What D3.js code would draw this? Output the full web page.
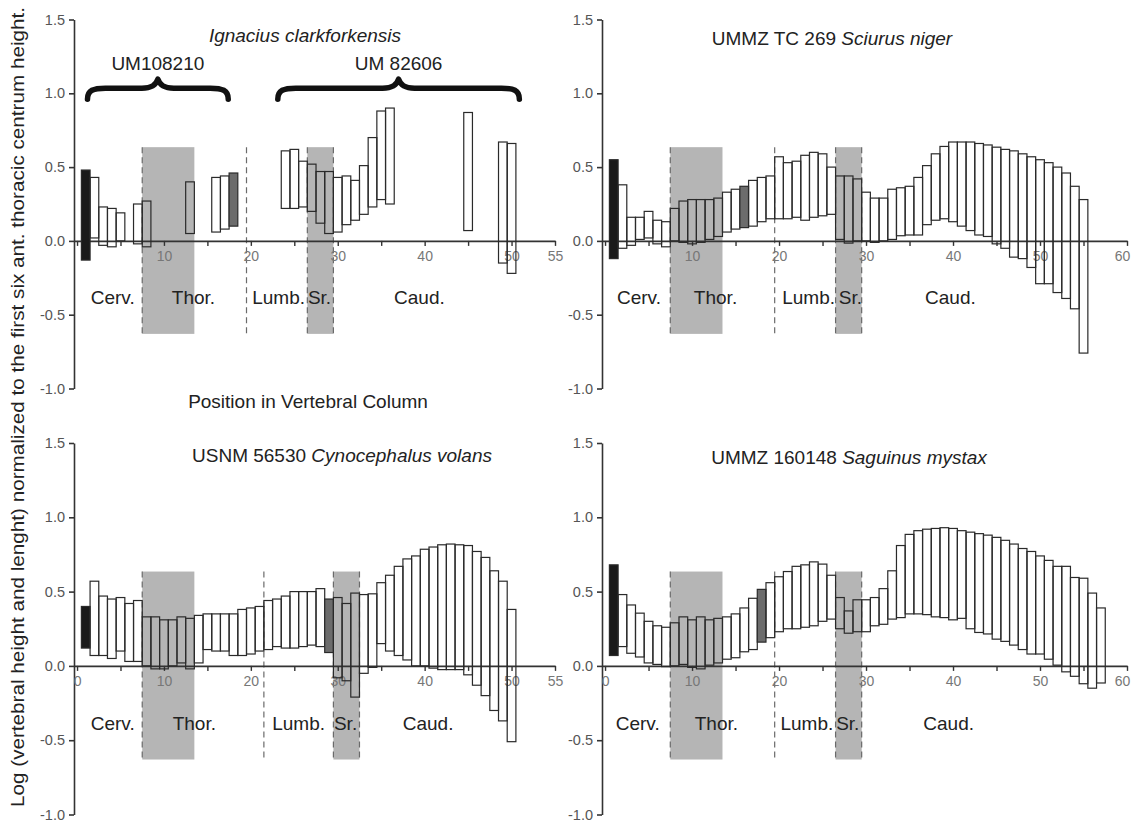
<!DOCTYPE html>
<html><head><meta charset="utf-8">
<script src="https://cdn.jsdelivr.net/npm/d3@7"></script>
<style>
html,body{margin:0;padding:0;background:#fff;}
svg{display:block;font-family:"Liberation Sans",Arial,Helvetica,sans-serif;}
</style></head><body>
<svg id="chart" width="1133" height="822"></svg>
<script>
// ---------- shared ----------
const regionNames = ["Cerv.", "Thor.", "Lumb.", "Sr.", "Caud."];
const yTicks = [-1.0, -0.5, 0.0, 0.5, 1.0, 1.5];
const shadeRange = [-0.63, 0.635];
const yAxisTitle = "Log (vertebral height and lenght) normalized to the first six ant. thoracic centrum height.";
const xAxisTitle = "Position in Vertebral Column";

// ---------- Ignacius clarkforkensis ----------
const ignaciusTitle = [["Ignacius clarkforkensis", true]];
const ignaciusPos  = [1, 2, 3, 4, 5, 7, 8, 13, 16, 17, 18, 24, 25, 26, 27, 28, 29, 30, 31, 32, 33, 34, 35, 36, 45, 49, 50];
const ignaciusLow  = [-0.13, 0.02, -0.03, -0.04, 0.00, -0.02, -0.04, 0.05, 0.06, 0.08, 0.10, 0.22, 0.22, 0.23, 0.20, 0.12, 0.05, 0.06, 0.11, 0.14, 0.18, 0.23, 0.28, 0.25, 0.07, -0.15, -0.22];
const ignaciusHigh = [0.48, 0.43, 0.23, 0.22, 0.19, 0.25, 0.27, 0.40, 0.43, 0.44, 0.46, 0.61, 0.62, 0.54, 0.52, 0.47, 0.47, 0.43, 0.44, 0.41, 0.51, 0.70, 0.88, 0.90, 0.87, 0.67, 0.66];
const ignaciusBlack = 1, ignaciusDark = 18;
const ignaciusThor = [7.5, 13.5], ignaciusLumb = 19.5, ignaciusSr = [26.5, 29.5];
const ignaciusLabelAt = [4.1, 13.4, 23.2, 27.9, 39.4];
const ignaciusXLabels = [10, 20, 30, 40, 50, 55];
const braceLabels = ["UM108210", "UM 82606"];
const braceFrom = [1.2, 23.1];
const braceTo = [17.4, 50.9];

// ---------- Sciurus niger ----------
const sciurusTitle = [["UMMZ TC 269 ", false], ["Sciurus niger", true]];
const sciurusPos  = [1,2,3,4,5,6,7,8,9,10,11,12,13,14,15,16,17,18,19,20,21,22,23,24,25,26,27,28,29,30,31,32,33,34,35,36,37,38,39,40,41,42,43,44,45,46,47,48,49,50,51,52,53,54,55];
const sciurusLow  = [-0.12,-0.05,-0.03,0.01,0.02,-0.02,-0.04,0.00,-0.01,-0.02, -0.01,0.01,0.03,0.06,0.08,0.09,0.10,0.13,0.15,0.15, 0.15,0.16,0.14,0.16,0.17,0.18,0.01,-0.015,0.00,0.00, -0.01,0.00,0.01,0.035,0.04,0.04,0.11,0.14,0.15,0.13, 0.10,0.07,0.04,0.03,-0.02,-0.05,-0.11,-0.12,-0.18,-0.29, -0.29,-0.35,-0.39,-0.46,-0.76];
const sciurusHigh = [0.55,0.38,0.16,0.16,0.20,0.14,0.13,0.22,0.27,0.28, 0.28,0.28,0.29,0.33,0.35,0.37,0.41,0.43,0.44,0.57, 0.53,0.54,0.58,0.60,0.59,0.50,0.44,0.44,0.42,0.33, 0.29,0.29,0.35,0.36,0.37,0.43,0.51,0.59,0.64,0.67, 0.67,0.67,0.66,0.65,0.635,0.62,0.61,0.59,0.57,0.55, 0.53,0.50,0.46,0.37,0.28];
const sciurusBlack = 1, sciurusDark = 16;
const sciurusThor = [7.5, 13.5], sciurusLumb = 19.5, sciurusSr = [26.5, 29.5];
const sciurusLabelAt = [3.9, 12.7, 23.4, 28.2, 39.7];
const sciurusXLabels = [10, 20, 30, 40, 50, 60];

// ---------- Cynocephalus volans ----------
const cynoTitle = [["USNM 56530 ", false], ["Cynocephalus volans", true]];
const cynoPos  = [1,2,3,4,5,6,7,8,9,10,11,12,13,14,15,16,17,18,19,20,21,22,23,24,25,26,27,28,29,30,31,32,33,34,35,36,37,38,39,40,41,42,43,44,45,46,47,48,49,50];
const cynoLow  = [0.12,0.07,0.07,0.05,0.10,0.03,0.03,0.00,-0.02,-0.02, 0.00,0.02,-0.02,0.02,0.11,0.10,0.10,0.07,0.07,0.08, 0.10,0.11,0.13,0.12,0.12,0.13,0.14,0.13,0.09,-0.08, -0.10,-0.21,-0.05,-0.01,0.15,0.10,0.07,0.04,0.00,0.00, -0.015,-0.025,-0.025,-0.025,-0.06,-0.13,-0.20,-0.30,-0.37,-0.51];
const cynoHigh = [0.40,0.57,0.47,0.45,0.46,0.42,0.44,0.33,0.33,0.31, 0.31,0.33,0.32,0.34,0.35,0.35,0.35,0.35,0.38,0.39, 0.40,0.44,0.45,0.47,0.50,0.50,0.50,0.52,0.45,0.46, 0.42,0.49,0.48,0.485,0.56,0.61,0.67,0.72,0.74,0.785, 0.80,0.815,0.82,0.815,0.81,0.77,0.73,0.64,0.57,0.38];
const cynoBlack = 1, cynoDark = 29;
const cynoThor = [7.5, 13.5], cynoLumb = 21.5, cynoSr = [29.5, 32.5];
const cynoLabelAt = [4.1, 13.5, 25.5, 30.9, 40.4];
const cynoXLabels = [0, 10, 20, 30, 40, 50, 55];

// ---------- Saguinus mystax ----------
const saguinusTitle = [["UMMZ 160148 ", false], ["Saguinus mystax", true]];
const saguinusPos  = [1,2,3,4,5,6,7,8,9,10,11,12,13,14,15,16,17,18,19,20,21,22,23,24,25,26,27,28,29,30,31,32,33,34,35,36,37,38,39,40,41,42,43,44,45,46,47,48,49,50,51,52,53,54,55,56,57];
const saguinusLow  = [0.07,0.13,0.085,0.06,0.02,0.01,-0.005,0.00,0.01,-0.01, -0.02,0.005,0.02,0.045,0.055,0.095,0.11,0.16,0.19,0.23, 0.25,0.25,0.26,0.27,0.30,0.315,0.25,0.22,0.23,0.23, 0.27,0.28,0.315,0.325,0.35,0.35,0.345,0.33,0.325,0.31, 0.32,0.25,0.225,0.215,0.18,0.165,0.14,0.11,0.08,0.08, 0.045,0.005,-0.04,-0.07,-0.12,-0.15,-0.115];
const saguinusHigh = [0.68,0.48,0.41,0.355,0.30,0.27,0.26,0.29,0.33,0.31, 0.33,0.31,0.32,0.33,0.35,0.39,0.455,0.515,0.56,0.60, 0.635,0.67,0.68,0.70,0.685,0.61,0.46,0.37,0.445,0.445, 0.46,0.52,0.64,0.81,0.885,0.91,0.92,0.925,0.93,0.925, 0.91,0.90,0.89,0.88,0.865,0.845,0.82,0.79,0.77,0.74, 0.71,0.67,0.67,0.595,0.59,0.49,0.39];
const saguinusBlack = 1, saguinusDark = 18;
const saguinusThor = [7.5, 13.5], saguinusLumb = 19.5, saguinusSr = [26.5, 29.5];
const saguinusLabelAt = [3.75, 12.8, 23.2, 27.9, 39.5];
const saguinusXLabels = [0, 10, 20, 30, 40, 50, 60];

// ---------- layout ----------
const panels = [
  {title: ignaciusTitle, pos: ignaciusPos, lo: ignaciusLow, hi: ignaciusHigh, black: ignaciusBlack, dark: ignaciusDark,
   thor: ignaciusThor, lumb: ignaciusLumb, sr: ignaciusSr, labelAt: ignaciusLabelAt, xMax: 55, xLabels: ignaciusXLabels,
   x0: 74, x1: 555, yTop: 19.5, yBot: 388.5, titleX: 305, titleY: 35, braces: true},
  {title: sciurusTitle, pos: sciurusPos, lo: sciurusLow, hi: sciurusHigh, black: sciurusBlack, dark: sciurusDark,
   thor: sciurusThor, lumb: sciurusLumb, sr: sciurusSr, labelAt: sciurusLabelAt, xMax: 60, xLabels: sciurusXLabels,
   x0: 602, x1: 1127, yTop: 19.5, yBot: 388.5, titleX: 832, titleY: 38},
  {title: cynoTitle, pos: cynoPos, lo: cynoLow, hi: cynoHigh, black: cynoBlack, dark: cynoDark,
   thor: cynoThor, lumb: cynoLumb, sr: cynoSr, labelAt: cynoLabelAt, xMax: 55, xLabels: cynoXLabels,
   x0: 74, x1: 555, yTop: 443, yBot: 814.5, titleX: 342, titleY: 455},
  {title: saguinusTitle, pos: saguinusPos, lo: saguinusLow, hi: saguinusHigh, black: saguinusBlack, dark: saguinusDark,
   thor: saguinusThor, lumb: saguinusLumb, sr: saguinusSr, labelAt: saguinusLabelAt, xMax: 60, xLabels: saguinusXLabels,
   x0: 602, x1: 1127, yTop: 443, yBot: 814.5, titleX: 849, titleY: 457}
];

const svg = d3.select("#chart");
svg.append("rect").attr("width", 1133).attr("height", 822).attr("fill", "#fff");

const AX = "#333";
panels.forEach(p => {
  const x = d3.scaleLinear().domain([-0.35, p.xMax]).range([p.x0, p.x1]);
  const y = d3.scaleLinear().domain([-1, 1.5]).range([p.yBot, p.yTop]);
  const g = svg.append("g");

  // shaded regions
  [p.thor, p.sr].forEach(r => {
    g.append("rect").attr("x", x(r[0])).attr("width", x(r[1]) - x(r[0]))
      .attr("y", y(shadeRange[1])).attr("height", y(shadeRange[0]) - y(shadeRange[1]))
      .attr("fill", "#b5b5b5");
  });
  // dashed boundaries
  [p.thor[0], p.lumb, p.sr[0], p.sr[1]].forEach(v => {
    g.append("line").attr("x1", x(v)).attr("x2", x(v))
      .attr("y1", y(shadeRange[1])).attr("y2", y(shadeRange[0]))
      .attr("stroke", "#6a6a6a").attr("stroke-width", 1.2).attr("stroke-dasharray", "6,4");
  });

  // region labels
  g.selectAll("text.reg").data(regionNames).join("text").attr("class", "reg")
    .attr("x", (d, i) => x(p.labelAt[i])).attr("y", y(-0.385)).attr("dy", "0.35em")
    .attr("text-anchor", "middle").attr("font-size", 19).attr("fill", "#222").text(d => d);

  // y axis
  const ya = g.append("g").attr("transform", `translate(${p.x0},0)`)
    .call(d3.axisLeft(y).tickValues(yTicks).tickSize(5).tickSizeOuter(0).tickPadding(4).tickFormat(d => d.toFixed(1)));
  ya.select(".domain").attr("stroke", AX).attr("stroke-width", 1.6);
  ya.selectAll(".tick line").attr("stroke", AX).attr("stroke-width", 1.6);
  ya.selectAll(".tick text").attr("font-size", 14.5).attr("fill", "#555").attr("font-family", "Liberation Sans, Arial, sans-serif");

  // x axis
  const xa = g.append("g").attr("transform", `translate(0,${y(0)})`)
    .call(d3.axisBottom(x).tickValues(d3.range(0, p.xMax + 1, 5)).tickSize(5).tickSizeOuter(0).tickPadding(5)
      .tickFormat(d => p.xLabels.includes(d) ? String(d) : ""));
  xa.select(".domain").attr("stroke", AX).attr("stroke-width", 1.6);
  xa.selectAll(".tick line").attr("stroke", AX).attr("stroke-width", 1.4);
  xa.selectAll(".tick text").attr("font-size", 14).attr("fill", "#777").attr("font-family", "Liberation Sans, Arial, sans-serif")
    .attr("dx", d => (p.x1 > 1100 && d === p.xMax) ? -5 : 0);

  // bars
  const data = p.pos.map((v, i) => ({pos: v, lo: p.lo[i], hi: p.hi[i]}));
  g.selectAll("rect.bar").data(data).join("rect").attr("class", "bar")
    .attr("x", d => x(d.pos - 0.5)).attr("width", d => x(d.pos + 0.5) - x(d.pos - 0.5))
    .attr("y", d => y(d.hi)).attr("height", d => y(d.lo) - y(d.hi))
    .attr("fill", d => d.pos === p.black ? "#1a1a1a" : (d.pos === p.dark ? "#6c6c6c" : "none"))
    .attr("stroke", "#2a2a2a").attr("stroke-width", 1.2);

  // title
  const t = g.append("text").attr("x", p.titleX).attr("y", p.titleY).attr("dy", "0.35em")
    .attr("text-anchor", "middle").attr("font-size", 19).attr("fill", "#222");
  p.title.forEach(([s, it]) => t.append("tspan").attr("font-style", it ? "italic" : "normal").text(s));

  // braces
  if (p.braces) {
    braceLabels.forEach((lab, i) => {
      const xa1 = x(braceFrom[i]), xa2 = x(braceTo[i]), xm = (xa1 + xa2) / 2, yb = y(1.035);
      const path = `M${xa1},${yb + 11} C${xa1},${yb + 2} ${xa1 + 6},${yb} ${xa1 + 18},${yb}
        L${xm - 16},${yb} C${xm - 6},${yb} ${xm - 2},${yb - 3} ${xm},${yb - 9}
        C${xm + 2},${yb - 3} ${xm + 6},${yb} ${xm + 16},${yb}
        L${xa2 - 18},${yb} C${xa2 - 6},${yb} ${xa2},${yb + 2} ${xa2},${yb + 11}`;
      g.append("path").attr("d", path).attr("fill", "none").attr("stroke", "#111")
        .attr("stroke-width", 5.5).attr("stroke-linecap", "round").attr("stroke-linejoin", "round");
      g.append("text").attr("x", xm).attr("y", y(1.205)).attr("dy", "0.35em").attr("text-anchor", "middle")
        .attr("font-size", 19).attr("fill", "#222").text(lab);
    });
  }
});

// axis titles
svg.append("text").attr("x", 308).attr("y", 401).attr("dy", "0.35em").attr("text-anchor", "middle")
  .attr("font-size", 19).attr("fill", "#222").text(xAxisTitle);
svg.append("text").attr("transform", "translate(18,407) rotate(-90)").attr("dy", "0.35em")
  .attr("text-anchor", "middle").attr("font-size", 18).attr("fill", "#222")
  .attr("textLength", 800).attr("lengthAdjust", "spacingAndGlyphs").text(yAxisTitle);
</script></body></html>
